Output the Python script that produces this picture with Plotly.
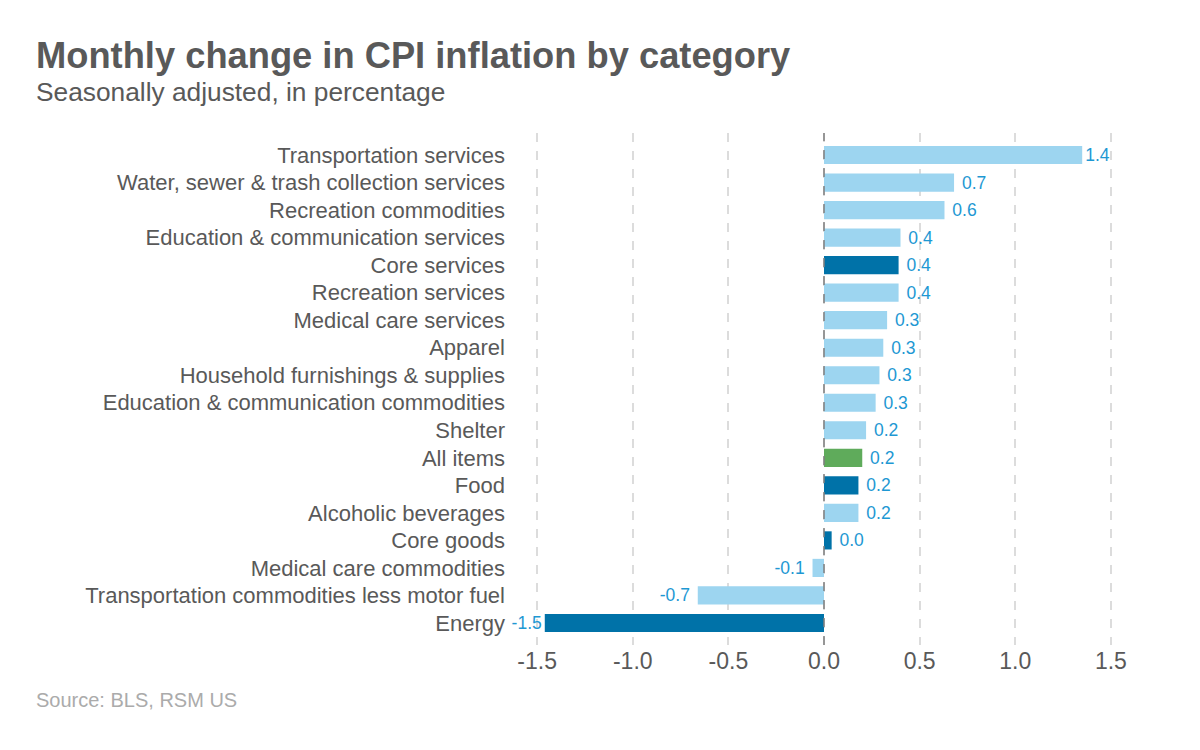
import plotly.graph_objects as go

categories = [
    "Transportation services",
    "Water, sewer & trash collection services",
    "Recreation commodities",
    "Education & communication services",
    "Core services",
    "Recreation services",
    "Medical care services",
    "Apparel",
    "Household furnishings & supplies",
    "Education & communication commodities",
    "Shelter",
    "All items",
    "Food",
    "Alcoholic beverages",
    "Core goods",
    "Medical care commodities",
    "Transportation commodities less motor fuel",
    "Energy",
]
values = [1.35, 0.68, 0.63, 0.40, 0.39, 0.39, 0.33, 0.31, 0.29, 0.27,
          0.22, 0.20, 0.18, 0.18, 0.04, -0.06, -0.66, -1.46]
kinds = ["sub", "sub", "sub", "sub", "agg", "sub", "sub", "sub", "sub", "sub",
         "sub", "all", "agg", "sub", "agg", "sub", "sub", "agg"]
tick_vals = [-1.5, -1.0, -0.5, 0.0, 0.5, 1.0, 1.5]

color_map = {"sub": "#9dd5f0", "agg": "#0072a8", "all": "#5fab5b"}
colors = [color_map[k] for k in kinds]
labels = []
for v in values:
    s = f"{v:.1f}"
    if abs(v) >= 1.3:
        labels.append(s)
    elif v >= 0:
        labels.append(" " + s)
    else:
        labels.append(s + " ")

fig = go.Figure()
fig.add_trace(go.Bar(
    x=values, y=categories, orientation="h",
    marker=dict(color=colors, line=dict(width=0)),
    width=0.66,
    text=labels, textposition="outside", cliponaxis=False, constraintext="none",
    textfont=dict(family="Liberation Sans, Arial", size=17.5, color="#1e98d3"),
    hoverinfo="skip",
))

OFF = 8  # page body margin
W_L, W_R, T, B = 518 - OFF, 70 + OFF, 133 - OFF, 105 + OFF
pw = 1200 - W_L - W_R
ph = 750 - T - B
TX = 34 - OFF

fig.update_layout(
    width=1200, height=750,
    paper_bgcolor="white", plot_bgcolor="white",
    margin=dict(l=W_L, r=W_R, t=T, b=B, autoexpand=False),
    showlegend=False,
    font=dict(family="Liberation Sans, Arial", color="#595959"),
    xaxis=dict(
        range=[-1.6, 1.6], tickvals=tick_vals,
        ticktext=[f"{t:.1f}" for t in tick_vals],
        showgrid=True, gridcolor="#dcdcdc", griddash="dash", gridwidth=1.5,
        zeroline=False, showline=False, ticks="",
        tickfont=dict(size=23, color="#595959"),
    ),
    yaxis=dict(
        categoryorder="array", categoryarray=categories,
        autorange=False, range=[17.8, -0.8],
        showgrid=False, zeroline=False, showline=False, ticks="",
        ticklabelstandoff=12,
        tickfont=dict(size=22, color="#595959"),
    ),
    shapes=[dict(type="line", xref="x", yref="paper", x0=0, x1=0, y0=0, y1=1,
                 line=dict(color="#7f7f7f", width=1.5, dash="dash"), layer="above")],
    annotations=[
        dict(text="<b>Monthly change in CPI inflation by category</b>",
             xref="paper", yref="paper", x=(TX - W_L) / pw, y=1 + (T - (55 - OFF)) / ph,
             xanchor="left", yanchor="middle", showarrow=False,
             font=dict(size=36.3, color="#595959")),
        dict(text="Seasonally adjusted, in percentage",
             xref="paper", yref="paper", x=(TX - W_L) / pw, y=1 + (T - (92 - OFF)) / ph,
             xanchor="left", yanchor="middle", showarrow=False,
             font=dict(size=26.3, color="#595959")),
        dict(text="Source: BLS, RSM US",
             xref="paper", yref="paper", x=(TX - W_L) / pw, y=-((700 - OFF) - (750 - B)) / ph,
             xanchor="left", yanchor="middle", showarrow=False,
             font=dict(size=20, color="#ababab")),
    ],
)

fig.write_html("out.html")
